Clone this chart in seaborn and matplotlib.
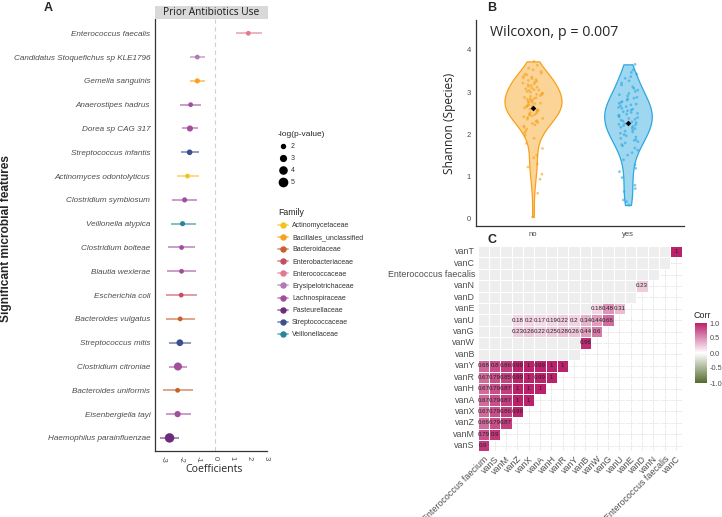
import numpy as np
import pandas as pd
import matplotlib
matplotlib.use("Agg")
import matplotlib.pyplot as plt
import seaborn as sns
from matplotlib.lines import Line2D
from matplotlib.colors import LinearSegmentedColormap, ListedColormap, to_rgba
from matplotlib.patches import Rectangle

# ---------------- Panel A data ----------------
species = ["Enterococcus faecalis", "Candidatus Stoquefichus sp KLE1796", "Gemella sanguinis",
           "Anaerostipes hadrus", "Dorea sp CAG 317", "Streptococcus infantis",
           "Actinomyces odontolyticus", "Clostridium symbiosum", "Veillonella atypica",
           "Clostridium bolteae", "Blautia wexlerae", "Escherichia coli", "Bacteroides vulgatus",
           "Streptococcus mitis", "Clostridium citroniae", "Bacteroides uniformis",
           "Eisenbergiella tayi", "Haemophilus parainfluenzae"]
coef = [1.95, -1.03, -1.03, -1.42, -1.46, -1.48, -1.60, -1.77, -1.89, -1.95, -1.95, -1.97,
        -2.03, -2.05, -2.16, -2.18, -2.18, -2.65]
ci_low = [1.21, -1.46, -1.44, -2.03, -1.93, -1.99, -2.22, -2.50, -2.57, -2.73, -2.81, -2.83,
          -2.87, -2.67, -2.69, -3.06, -2.88, -3.22]
ci_high = [2.77, -0.58, -0.60, -0.84, -0.99, -0.94, -0.94, -1.05, -1.13, -1.19, -1.11, -1.07,
           -1.15, -1.40, -1.62, -1.27, -1.42, -2.07]
neglogp = [2.4, 2.4, 2.6, 2.4, 3.2, 2.9, 2.4, 2.6, 2.6, 2.4, 2.4, 2.4, 2.4, 3.7, 4.8, 2.4, 3.3, 6.2]
family = ["Enterococcaceae", "Erysipelotrichaceae", "Bacillales_unclassified", "Lachnospiraceae",
          "Lachnospiraceae", "Streptococcaceae", "Actinomycetaceae", "Lachnospiraceae",
          "Veillonellaceae", "Lachnospiraceae", "Lachnospiraceae", "Enterobacteriaceae",
          "Bacteroidaceae", "Streptococcaceae", "Lachnospiraceae", "Bacteroidaceae",
          "Lachnospiraceae", "Pasteurellaceae"]
family_order = ["Actinomycetaceae", "Bacillales_unclassified", "Bacteroidaceae", "Enterobacteriaceae",
                "Enterococcaceae", "Erysipelotrichaceae", "Lachnospiraceae", "Pasteurellaceae",
                "Streptococcaceae", "Veillonellaceae"]
family_colors = ["#F6C21B", "#F7A21B", "#C85F2E", "#C64F5F", "#E07A91", "#B27AB4", "#A24E9F",
                 "#6B2D7B", "#3D4F8E", "#27869A"]
size_breaks = [2, 3, 4, 5]
xticks_A = [-3, -2, -1, 0, 1, 2, 3]

# ---------------- Panel B data ----------------
shannon_no = [3.73,
              3.64, 3.57,
              3.53, 3.49, 3.45,
              3.43, 3.41, 3.38, 3.36,
              3.34, 3.32, 3.30, 3.28, 3.26,
              3.24, 3.22, 3.20, 3.18, 3.16,
              3.14, 3.12, 3.10, 3.08, 3.06, 3.05,
              3.04, 3.02, 3.00, 2.98, 2.97, 2.95,
              2.94, 2.92, 2.90, 2.88, 2.87, 2.85,
              2.84, 2.83, 2.81, 2.80, 2.78, 2.77, 2.76,
              2.74, 2.73, 2.71, 2.70, 2.68, 2.67, 2.66,
              2.64, 2.63, 2.61, 2.60, 2.58, 2.57, 2.56,
              2.54, 2.52, 2.50, 2.49, 2.47, 2.46,
              2.44, 2.42, 2.40, 2.38, 2.36,
              2.33, 2.31, 2.28, 2.26,
              2.23, 2.20, 2.17,
              2.13, 2.08,
              2.04, 1.98,
              1.91, 1.79, 1.67, 1.51, 1.45, 1.30, 1.23, 1.06, 0.94, 0.61, 0.05]
shannon_yes = [3.66,
               3.53, 3.47,
               3.43, 3.37,
               3.33, 3.27,
               3.22, 3.17,
               3.13, 3.09, 3.05,
               3.02, 2.97,
               2.94, 2.91, 2.88, 2.86,
               2.84, 2.81, 2.78, 2.76,
               2.74, 2.72, 2.70, 2.68, 2.66,
               2.64, 2.62, 2.60, 2.58, 2.56,
               2.54, 2.52, 2.50, 2.48, 2.46,
               2.44, 2.42, 2.40, 2.38, 2.36,
               2.34, 2.32, 2.30, 2.28, 2.26,
               2.24, 2.23, 2.21, 2.19, 2.17, 2.16,
               2.14, 2.11, 2.08, 2.06,
               2.03, 2.00, 1.97,
               1.94, 1.91, 1.88, 1.86,
               1.83, 1.80, 1.76,
               1.73, 1.68,
               1.63, 1.57,
               1.51,
               1.40, 1.28, 1.20, 1.12, 0.98, 0.80, 0.72, 0.65, 0.45, 0.41, 0.33]
groups = ["no", "yes"]
group_colors = ["#F7A11A", "#2AA8E0"]
yticks_B = [0, 1, 2, 3, 4]
stat_label = "Wilcoxon, p = 0.007"

# ---------------- Panel C data ----------------
corr_cols = ["Enterococcus faecium", "vanS", "vanM", "vanZ", "vanX", "vanA", "vanH", "vanR", "vanY",
             "vanB", "vanW", "vanG", "vanU", "vanE", "vanD", "vanN", "Enterococcus faecalis", "vanC"]
corr_rows = ["vanT", "vanC", "Enterococcus faecalis", "vanN", "vanD", "vanE", "vanU", "vanG", "vanW",
             "vanB", "vanY", "vanR", "vanH", "vanA", "vanX", "vanZ", "vanM", "vanS"]
na = np.nan
r_vanT = [na] * 17 + [1.00]
r_vanC = [na] * 17
r_efaecalis = [na] * 16
r_vanN = [na] * 14 + [0.23]
r_vanD = [na] * 14
r_vanE = [na] * 10 + [0.18, 0.48, 0.31]
r_vanU = [na] * 3 + [0.18, 0.20, 0.17, 0.19, 0.22, 0.20, 0.34, 0.44, 0.66]
r_vanG = [na] * 3 + [0.23, 0.26, 0.22, 0.25, 0.28, 0.26, 0.44, 0.60]
r_vanW = [na] * 9 + [0.96]
r_vanB = [na] * 9
r_vanY = [0.68, 0.80, 0.86, 0.99, 1.00, 0.99, 1.00, 1.00]
r_vanR = [0.67, 0.79, 0.85, 0.99, 1.00, 0.99, 1.00]
r_vanH = [0.67, 0.79, 0.87, 1.00, 1.00, 1.00]
r_vanA = [0.67, 0.79, 0.87, 1.00, 1.00]
r_vanX = [0.67, 0.79, 0.86, 0.99]
r_vanZ = [0.66, 0.79, 0.87]
r_vanM = [0.79, 0.90]
r_vanS = [0.90]
corr_row_values = [r_vanT, r_vanC, r_efaecalis, r_vanN, r_vanD, r_vanE, r_vanU, r_vanG, r_vanW,
                   r_vanB, r_vanY, r_vanR, r_vanH, r_vanA, r_vanX, r_vanZ, r_vanM, r_vanS]
cbar_ticks = [-1.0, -0.5, 0.0, 0.5, 1.0]

# ---------------- Figure ----------------
sns.set_theme(style="white")
plt.rcParams['font.family'] = ['Liberation Sans', 'DejaVu Sans']
TITLE_FONT = ['Open Sans', 'DejaVu Sans']
GREY_TXT = '#4D4D4D'

W, H = 722, 517
fig = plt.figure(figsize=(W / 100, H / 100), dpi=100)


def fbox(x0, y0, x1, y1):
    return [x0 / W, 1 - y1 / H, (x1 - x0) / W, (y1 - y0) / H]


# ======== Panel A ========
axA = fig.add_axes(fbox(155, 19, 267, 451))
pal = dict(zip(family_order, family_colors))
dfA = pd.DataFrame({"species": species, "coef": coef, "lo": ci_low, "hi": ci_high,
                    "nlp": neglogp, "family": family})
dfA["pos"] = np.arange(len(dfA))
axA.axvline(0, color='#D0D0D0', lw=0.8, ls=(0, (4, 3)), zorder=1)
axA.hlines(dfA["pos"], dfA["lo"], dfA["hi"], colors=[to_rgba(pal[f], 0.6) for f in dfA["family"]],
           lw=1.3, zorder=2)
size_norm = (2.0, 6.2)
size_range = (8.3, 46.6)
sns.scatterplot(data=dfA, x="coef", y="pos", hue="family", palette=pal, size="nlp",
                sizes=size_range, size_norm=size_norm, legend=False, linewidth=0, ax=axA, zorder=3)
axA.set_ylim(len(species) - 0.45, -0.6)
axA.set_xlim(-3.5, 3.04)
axA.set_yticks(dfA["pos"])
axA.set_yticklabels(species, fontsize=5.9, style='italic', color=GREY_TXT)
axA.set_xticks(xticks_A)
axA.set_xticklabels([str(t) for t in xticks_A], rotation=-90, fontsize=5.5, color=GREY_TXT)
axA.set_xlabel("")
axA.set_ylabel("")
for s in ["top", "right"]:
    axA.spines[s].set_visible(False)
for s in ["left", "bottom"]:
    axA.spines[s].set_color('#333333')
    axA.spines[s].set_linewidth(0.9)
axA.tick_params(axis='both', length=2, width=0.6, color='#333333', pad=1.5)

# strip
fig.patches.append(Rectangle((155 / W, 1 - 19 / H), 112.5 / W, 12.5 / H, transform=fig.transFigure,
                             facecolor='#D9D9D9', edgecolor='none'))
fig.text(211 / W, 1 - 12.5 / H, "Prior Antibiotics Use", ha='center', va='center', fontsize=7.3,
         family=TITLE_FONT, color='#1A1A1A')
fig.text(214 / W, 1 - 469 / H, "Coefficients", ha='center', va='center', fontsize=7.6,
         family=TITLE_FONT)
fig.text(6 / W, 1 - 238 / H, "Significant microbial features", rotation=90, ha='center',
         va='center', fontsize=8.6, fontweight='bold')
fig.text(48 / W, 1 - 8 / H, "A", ha='center', va='center', fontsize=9, fontweight='bold')

# legends for panel A
def s_of(v):
    return size_range[0] + (v - size_norm[0]) / (size_norm[1] - size_norm[0]) * (size_range[1] - size_range[0])

size_handles = [Line2D([], [], ls='none', marker='o', color='black', markersize=np.sqrt(s_of(v)))
                for v in size_breaks]
leg1 = fig.legend(size_handles, [str(v) for v in size_breaks], title='-log(p-value)',
                  loc='upper left', bbox_to_anchor=(278 / W, 1 - 131 / H), frameon=False,
                  fontsize=5, title_fontsize=6, handlelength=1.3, handletextpad=0.5,
                  labelspacing=0.72, borderpad=0, borderaxespad=0)
leg1._legend_box.align = 'left'
fam_handles = [(Line2D([], [], color=to_rgba(c, 0.6), lw=1.3),
                Line2D([], [], ls='none', marker='o', color=c, markersize=3.6))
               for c in family_colors]
leg2 = fig.legend(fam_handles, family_order, title='Family', loc='upper left',
                  bbox_to_anchor=(278 / W, 1 - 208 / H), frameon=False, fontsize=5,
                  title_fontsize=6.3, handlelength=1.5, handletextpad=0.5, labelspacing=0.74,
                  borderpad=0, borderaxespad=0)
leg2._legend_box.align = 'left'
for t in leg1.get_texts() + leg2.get_texts():
    t.set_color('#333333')

# ======== Panel B ========
axB = fig.add_axes(fbox(476, 20, 684, 226))
dfB = pd.DataFrame({"group": ["no"] * len(shannon_no) + ["yes"] * len(shannon_yes),
                    "shannon": shannon_no + shannon_yes})
gpal = dict(zip(groups, group_colors))
# no hue here so that the 'area' normalisation is shared across the two violins
sns.violinplot(data=dfB, x="group", y="shannon", order=groups, color='#999999',
               cut=0, bw_method='silverman', bw_adjust=0.9,
               density_norm='area', width=0.6, inner=None, linewidth=0.9, saturation=1,
               ax=axB)
for coll, c in zip(axB.collections, group_colors):
    coll.set_facecolor(to_rgba(c, 0.45))
    coll.set_edgecolor(c)
np.random.seed(3)
sns.stripplot(data=dfB, x="group", y="shannon", hue="group", palette=gpal, order=groups,
              hue_order=groups, jitter=0.11, size=2.0, alpha=0.6, linewidth=0, legend=False,
              ax=axB, zorder=3)
sns.pointplot(data=dfB, x="group", y="shannon", order=groups, estimator='mean', errorbar=None,
              color='black', marker='D', markersize=2.9, markeredgewidth=0, linestyle='none',
              ax=axB, zorder=5)
axB.set_xlim(-0.6, 1.59)
axB.set_ylim(-0.166, 4.71)
axB.set_yticks(yticks_B)
axB.set_yticklabels([str(t) for t in yticks_B], fontsize=5.5, color=GREY_TXT)
axB.set_xticks([0, 1])
axB.set_xticklabels(groups, fontsize=5.5, color=GREY_TXT)
axB.set_xlabel("")
axB.set_ylabel("Shannon (Species)", fontsize=8.6, family=TITLE_FONT, labelpad=8)
for s in ["top", "right"]:
    axB.spines[s].set_visible(False)
for s in ["left", "bottom"]:
    axB.spines[s].set_color('#333333')
    axB.spines[s].set_linewidth(0.9)
axB.tick_params(axis='both', length=2, width=0.6, color='#333333', pad=1.5)
axB.text((490 - 476) / 208, (226 - 33) / 206, stat_label, transform=axB.transAxes,
         ha='left', va='center', fontsize=10.3, family=TITLE_FONT)
fig.text(492 / W, 1 - 8 / H, "B", ha='center', va='center', fontsize=9, fontweight='bold')

# ======== Panel C ========
axC = fig.add_axes(fbox(477.7, 246, 681.7, 451.4))
cax = fig.add_axes(fbox(695.3, 323, 707, 383))
n_r, n_c = len(corr_rows), len(corr_cols)
vals = np.full((n_r, n_c), np.nan)
lower = np.zeros((n_r, n_c), dtype=bool)
for i, row in enumerate(corr_row_values):
    vals[i, :len(row)] = row
    lower[i, :len(row)] = True
grey_layer = np.where(lower & np.isnan(vals), 0.0, np.nan)
labels = np.array([["" if np.isnan(v) else f"{v:g}" for v in r] for r in vals])
dfC = pd.DataFrame(vals, index=corr_rows, columns=corr_cols)
dfG = pd.DataFrame(grey_layer, index=corr_rows, columns=corr_cols)
sns.heatmap(dfG, cmap=ListedColormap(['#EEEEEE']), cbar=False, linewidths=0.5,
            linecolor='white', ax=axC)
cmap = LinearSegmentedColormap.from_list("corr", ["#556B2F", "#FFFFFF", "#BA226C"])
sns.heatmap(dfC, cmap=cmap, vmin=-1, vmax=1, annot=labels, fmt='',
            annot_kws={'size': 4.4, 'color': '#222222'}, linewidths=0.5, linecolor='white',
            cbar_ax=cax, ax=axC)
axC.grid(True, color='#E6E6E6', lw=0.5)
axC.set_axisbelow(True)
axC.set_xticks(np.arange(n_c) + 0.5)
axC.set_xticklabels(corr_cols, rotation=45, ha='right', rotation_mode='anchor', fontsize=6.4,
                    color=GREY_TXT)
axC.set_yticks(np.arange(n_r) + 0.5)
axC.set_yticklabels(corr_rows, rotation=0, fontsize=6.4, color=GREY_TXT)
axC.tick_params(length=0, pad=2)
axC.set_xlabel("")
axC.set_ylabel("")
cbar = axC.collections[-1].colorbar
cbar.set_ticks(cbar_ticks)
cbar.set_ticklabels([f"{t:.1f}" for t in cbar_ticks])
cbar.outline.set_visible(False)
cax.tick_params(labelsize=5.3, length=0, pad=2, labelcolor=GREY_TXT)
fig.text(694 / W, 1 - 316 / H, "Corr", ha='left', va='center', fontsize=6.4, color='#222222')
fig.text(492 / W, 1 - 240 / H, "C", ha='center', va='center', fontsize=9, fontweight='bold')

fig.savefig("out.png", dpi=100)
